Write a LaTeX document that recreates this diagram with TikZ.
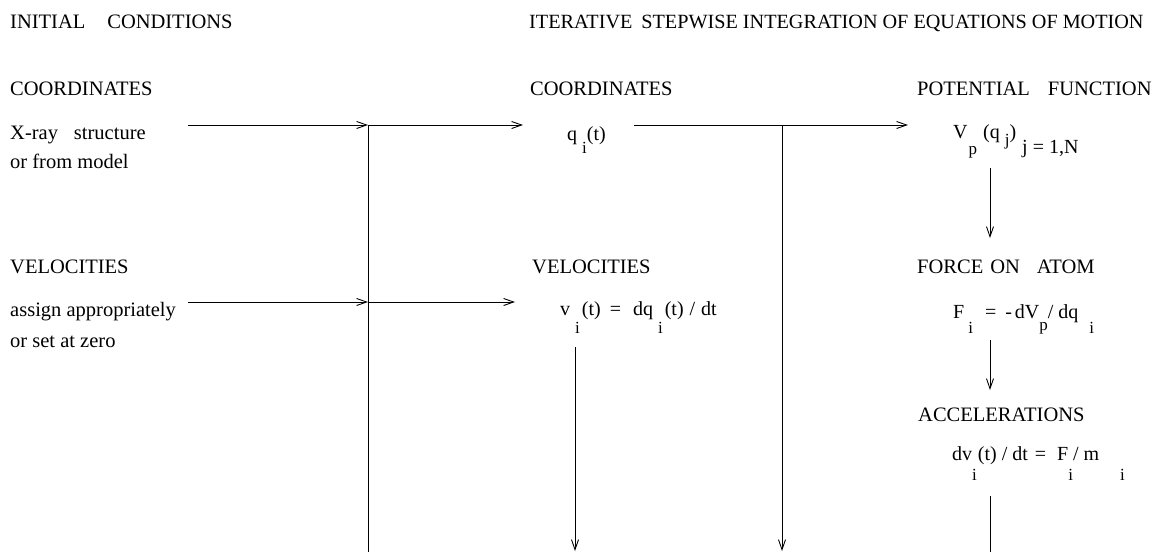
\documentclass[tikz,border=0pt]{standalone}
\usepackage{fontspec}
\setmainfont{Liberation Serif}
\usetikzlibrary{arrows.meta}
\newcommand\lo[2]{\raisebox{-#1pt}{\fontsize{17}{17}\selectfont #2}}
\begin{document}
\begin{tikzpicture}[x=1pt,y=-1pt,
  lbl/.style={anchor=base west,inner sep=0pt,font=\fontsize{20.5}{24}\selectfont},
  eq/.style={anchor=base west,inner sep=0pt,font=\fontsize{20}{24}\selectfont},
  flow/.style={line width=0.9pt,-{Straight Barb[length=10pt,width=7pt,line width=0.9pt]}},
  wire/.style={line width=0.9pt}]
\useasboundingbox (0,0) rectangle (1152,552);
\fill[white] (0,0) rectangle (1152,552);

% headings
\node[lbl] (tInit) at (10,28) {INITIAL\hspace{22pt}CONDITIONS};
\node[lbl,font=\fontsize{20.2}{24}\selectfont] (tIter) at (529,28) {ITERATIVE\hspace{9pt}STEPWISE INTEGRATION OF EQUATIONS OF MOTION};

% left column
\node[lbl] (tCoordL) at (10,95) {COORDINATES};
\node[lbl] (xray1) at (10,139) {X-ray\hspace{16pt}structure};
\node[lbl] (xray2) at (10,168) {or from model};
\node[lbl] (tVelL) at (10,273) {VELOCITIES};
\node[lbl] (vel1) at (10,316) {assign appropriately};
\node[lbl] (vel2) at (10,347) {or set at zero};

% middle column
\node[lbl] (tCoordM) at (530,95) {COORDINATES};
\node[eq] (q) at (567,140) {q\hspace{5pt}\lo{13}{i}(t)};
\node[lbl] (tVelM) at (532,273) {VELOCITIES};
\node[eq] (v) at (560,315) {v\hspace{5pt}\lo{18}{i}\hspace{2pt}(t)\hspace{9pt}=\hspace{12pt}dq\hspace{5pt}\lo{18}{i}\hspace{2pt}(t)\hspace{6pt}/\hspace{6pt}dt};

% right column
\node[lbl] (tPot) at (917,95) {POTENTIAL\hspace{18pt}FUNCTION};
\node[eq] (V) at (953,138) {V\hspace{1pt}\lo{16}{p}\hspace{6pt}(q\hspace{5pt}\lo{7}{j})\hspace{6pt}\raisebox{-15pt}{j = 1,N}};
\node[lbl] (tForce) at (917,273) {FORCE\hspace{7pt}ON\hspace{17pt}ATOM};
\node[eq] (F) at (953,318) {F\hspace{4pt}\lo{15}{i}\hspace{12pt}=\hspace{9pt}-\hspace{3pt}dV\lo{12}{p}/ dq\hspace{11pt}\lo{15}{i}};
\node[lbl] (tAcc) at (918,421) {ACCELERATIONS};
\node[eq] (A) at (952,460) {dv\lo{20}{i}\hspace{1pt}(t)\hspace{5pt}/\hspace{5pt}dt\hspace{7pt}=\hspace{11pt}F\lo{20}{i}/ m\hspace{21pt}\lo{20}{i}};

% connector points
\coordinate (s1) at (188,125);
\coordinate (j1) at (368,125);
\coordinate (e1) at (523,125);
\coordinate (s2) at (188,302);
\coordinate (j2) at (368,302);
\coordinate (e2) at (515,302);
\coordinate (b1) at (368,552);
\coordinate (s3) at (634,125);
\coordinate (j3) at (782,125);
\coordinate (e3) at (908,125);
\coordinate (b3) at (782,551);
\coordinate (sv) at (575,347);
\coordinate (bv) at (575,551);
\coordinate (p1) at (990,168);
\coordinate (p2) at (990,238);
\coordinate (f1) at (990,340);
\coordinate (f2) at (990,390);
\coordinate (a1) at (990,496);
\coordinate (a2) at (990,552);

% connectors
\draw[flow] (s1) -- (j1);
\draw[flow] (j1) -- (e1);
\draw[flow] (s2) -- (j2);
\draw[flow] (j2) -- (e2);
\draw[wire] (j1) -- (b1);
\draw[wire] (s3) -- (j3);
\draw[flow] (j3) -- (e3);
\draw[flow] (j3) -- (b3);
\draw[flow] (sv) -- (bv);
\draw[flow] (p1) -- (p2);
\draw[flow] (f1) -- (f2);
\draw[wire] (a1) -- (a2);
\end{tikzpicture}
\end{document}
